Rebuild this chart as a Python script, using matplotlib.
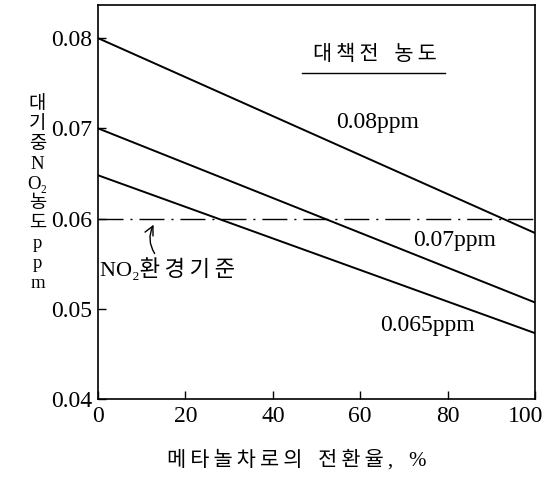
import matplotlib
matplotlib.use("Agg")
import matplotlib.pyplot as plt
import matplotlib.transforms as mtransforms

plt.rcParams['font.family'] = ['Liberation Serif', 'DejaVu Serif', 'Noto Sans CJK KR']

conversion = [0, 100]
series_labels = ["0.08ppm", "0.07ppm", "0.065ppm"]
series_values = [[0.080, 0.0584], [0.070, 0.0507], [0.0648, 0.0473]]
standard = 0.06
xticks = [0, 20, 40, 60, 80, 100]
yticks = [0.04, 0.05, 0.06, 0.07, 0.08]
ytick_labels = ["0.04", "0.05", "0.06", "0.07", "0.08"]

TS = "\u2009"

def spaced(s):
    return TS.join(list(s))

fig = plt.figure(figsize=(5.51, 4.79), dpi=100)
ax = fig.add_axes([0.178, 0.167, 0.793, 0.823])

for vals in series_values:
    ax.plot(conversion, vals, color='black', lw=1.4)
ax.plot(conversion, [standard, standard], color='black', lw=1.0,
        linestyle=(0, (18, 5, 1.5, 5)))

ax.set_xlim(0, 100)
ax.set_ylim(0.04, 0.0837)
ax.set_xticks(xticks)
ax.set_xticklabels([str(t) for t in xticks])
ax.set_yticks(yticks)
ax.set_yticklabels(ytick_labels)
ax.tick_params(direction='in', length=6, labelsize=17, width=1)
ax.tick_params(axis='x', pad=5)
ax.tick_params(axis='y', pad=4)
for s in ax.spines.values():
    s.set_linewidth(1.2)

last = ax.get_xticklabels()[-1]
last.set_transform(last.get_transform() +
                   mtransforms.ScaledTranslation(-9 / 100, 0, fig.dpi_scale_trans))

fig.text(0.539, 0.04, spaced("메타놀차로의") + "   " + spaced("전환율,") + "   %",
         fontsize=15, ha='center', va='center')

ylab = "\n".join(["대", "기", "중", "N", "O₂", "농", "도", "p", "p", "m"])
fig.text(0.068, 0.595, ylab, fontsize=13.5, ha='center', va='center',
         linespacing=1.22)

ax.text(0.634, 0.872, spaced("대책전") + "   " + spaced("농도"), transform=ax.transAxes,
        fontsize=15, ha='center', va='center')
ax.plot([0.467, 0.795], [0.827, 0.827], transform=ax.transAxes, color='black', lw=1)

ax.text(54.5, 0.0707, series_labels[0], fontsize=17, ha='left', va='center')
ax.text(72, 0.0576, series_labels[1], fontsize=17, ha='left', va='center')
ax.text(64.5, 0.0482, series_labels[2], fontsize=17, ha='left', va='center')

ax.annotate("NO₂" + spaced("환경기준"), xy=(13, 0.0596), xytext=(0.5, 0.0543),
            fontsize=16, ha='left', va='center',
            arrowprops=dict(arrowstyle='->', color='black', lw=1,
                            connectionstyle='arc3,rad=-0.35',
                            relpos=(0.43, 1.0)))

fig.savefig("out.png", dpi=100)
